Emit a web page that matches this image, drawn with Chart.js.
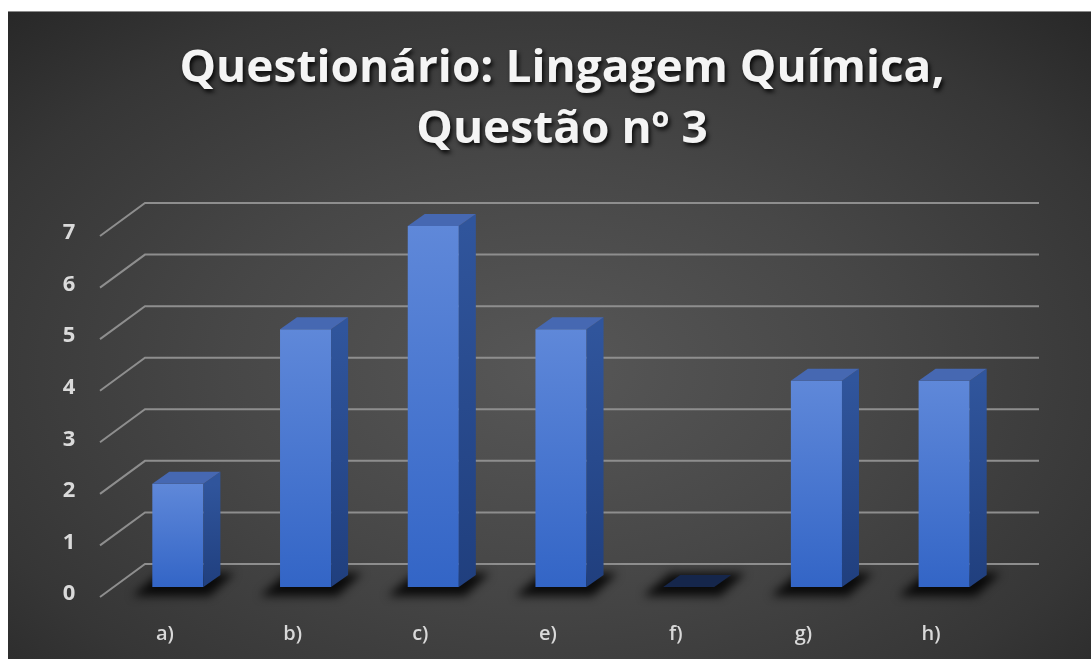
<!DOCTYPE html>
<html>
<head>
<meta charset="utf-8">
<script src="https://cdn.jsdelivr.net/npm/chart.js@4.4.1/dist/chart.umd.min.js"></script>
<style>
  html, body { margin: 0; padding: 0; background: #ffffff; }
  #wrap {
    position: absolute; left: 8px; top: 11px; width: 1083px; height: 648px;
    background: radial-gradient(ellipse 75% 80% at 50% 55%, #575757 0%, #474747 40%, #363636 75%, #252525 100%);
    border-top: 1px solid #8a8a8a;
  }
  canvas { display: block; }
</style>
</head>
<body>
<div id="wrap"><canvas id="quimicaChart" width="1083" height="647"></canvas></div>
<script>
// chart data
const categories = ['a)', 'b)', 'c)', 'e)', 'f)', 'g)', 'h)'];
const responses = [2, 5, 7, 5, 0, 4, 4];
const yTicks = [0, 1, 2, 3, 4, 5, 6, 7];
const titleLines = ['Questionário: Lingagem Química,', 'Questão nº 3'];

// fake 3D depth of the columns
const depth = { dx: 17, dy: -12 };

// front face gradient for each column
function frontGradient(c) {
    const chart = c.chart;
    const y = chart.scales.y;
    if (!y || c.raw === undefined) return '#4a76cf';
    const top = y.getPixelForValue(c.raw);
    const base = y.getPixelForValue(0);
    if (!isFinite(top) || !isFinite(base)) return '#4a76cf';
    const g = chart.ctx.createLinearGradient(0, top, 0, Math.max(base, top + 1));
    g.addColorStop(0, '#5f88d9');
    g.addColorStop(1, '#3365c6');
    return g;
}

function poly(ctx, pts) {
    ctx.beginPath();
    ctx.moveTo(pts[0][0], pts[0][1]);
    for (let i = 1; i < pts.length; i++) ctx.lineTo(pts[i][0], pts[i][1]);
    ctx.closePath();
}

// draws walls, gridlines, tick labels, shadows and the 3D sides
const threeD = {
    id: 'threeD',
    beforeDatasetsDraw(chart) {
        const ctx = chart.ctx;
        const y = chart.scales.y;
        const area = chart.chartArea;
        ctx.save();
        // gridlines on the floor edge + back wall
        ctx.strokeStyle = '#8e8e8e';
        ctx.lineWidth = 2;
        yTicks.forEach(v => {
            const p = y.getPixelForValue(v);
            ctx.beginPath();
            ctx.moveTo(area.left - 14, p + 10);
            ctx.lineTo(area.left + 31, p - 23);
            ctx.lineTo(area.right + 31, p - 23);
            ctx.stroke();
        });
        // y tick labels
        ctx.fillStyle = '#dadada';
        ctx.font = 'bold 22px "Open Sans"';
        ctx.textAlign = 'center';
        ctx.textBaseline = 'middle';
        yTicks.forEach(v => {
            ctx.fillText(String(v), area.left - 45, y.getPixelForValue(v) + 7);
        });
        // soft shadows under the columns
        const meta = chart.getDatasetMeta(0);
        ctx.filter = 'blur(5px)';
        ctx.fillStyle = 'rgba(0,0,0,0.85)';
        meta.data.forEach(bar => {
            const l = bar.x - bar.width / 2, r = bar.x + bar.width / 2, b = bar.base;
            poly(ctx, [[l - 20, b + 9], [r + 6, b + 9], [r + depth.dx + 14, b + depth.dy - 2], [l + depth.dx - 10, b + depth.dy - 2]]);
            ctx.fill();
        });
        ctx.restore();
    },
    afterDatasetsDraw(chart) {
        const ctx = chart.ctx;
        const meta = chart.getDatasetMeta(0);
        const area = chart.chartArea;
        ctx.save();
        meta.data.forEach((bar, i) => {
            const l = bar.x - bar.width / 2, r = bar.x + bar.width / 2;
            const t = bar.y, b = bar.base;
            if (responses[i] === 0) {
                ctx.fillStyle = '#15264b';
                poly(ctx, [[l, b], [r, b], [r + depth.dx, b + depth.dy], [l + depth.dx, b + depth.dy]]);
                ctx.fill();
                return;
            }
            const side = ctx.createLinearGradient(0, t, 0, b);
            side.addColorStop(0, '#30559c');
            side.addColorStop(1, '#203f7e');
            ctx.fillStyle = side;
            poly(ctx, [[r, t], [r + depth.dx, t + depth.dy], [r + depth.dx, b + depth.dy], [r, b]]);
            ctx.fill();
            ctx.fillStyle = '#4668b2';
            poly(ctx, [[l, t], [l + depth.dx, t + depth.dy], [r + depth.dx, t + depth.dy], [r, t]]);
            ctx.fill();
        });
        // category labels
        ctx.fillStyle = '#d9d9d9';
        ctx.font = '600 20px "Open Sans"';
        ctx.textAlign = 'center';
        ctx.textBaseline = 'middle';
        meta.data.forEach((bar, i) => {
            ctx.fillText(chart.data.labels[i], bar.x - 13, area.bottom + 47);
        });
        ctx.restore();
    },
    afterDraw(chart) {
        const ctx = chart.ctx;
        ctx.save();
        ctx.font = 'bold 44px "Open Sans"';
        ctx.textAlign = 'center';
        ctx.textBaseline = 'middle';
        ctx.fillStyle = '#f4f4f4';
        ctx.shadowColor = 'rgba(0,0,0,0.85)';
        ctx.shadowBlur = 4;
        ctx.shadowOffsetX = 2;
        ctx.shadowOffsetY = 3;
        const cx = 554;
        const sx = 765 / ctx.measureText(titleLines[0]).width;
        ctx.translate(cx, 0);
        ctx.scale(sx, 1);
        ctx.fillText(titleLines[0], 0, 57);
        ctx.fillText(titleLines[1], 0, 118);
        ctx.restore();
    }
};

new Chart(document.getElementById('quimicaChart'), {
    type: 'bar',
    data: {
        labels: categories,
        datasets: [{
            label: 'Questão nº 3',
            data: responses,
            backgroundColor: frontGradient,
            borderWidth: 0,
            barPercentage: 0.4,
            categoryPercentage: 1.0
        }]
    },
    options: {
        responsive: false,
        animation: false,
        layout: { padding: { left: 106, right: 83, top: 214, bottom: 72 } },
        scales: {
            x: { display: false },
            y: { display: false, min: 0, max: 7 }
        },
        plugins: {
            legend: { display: false },
            tooltip: { enabled: false }
        }
    },
    plugins: [threeD]
});
</script>
</body>
</html>
